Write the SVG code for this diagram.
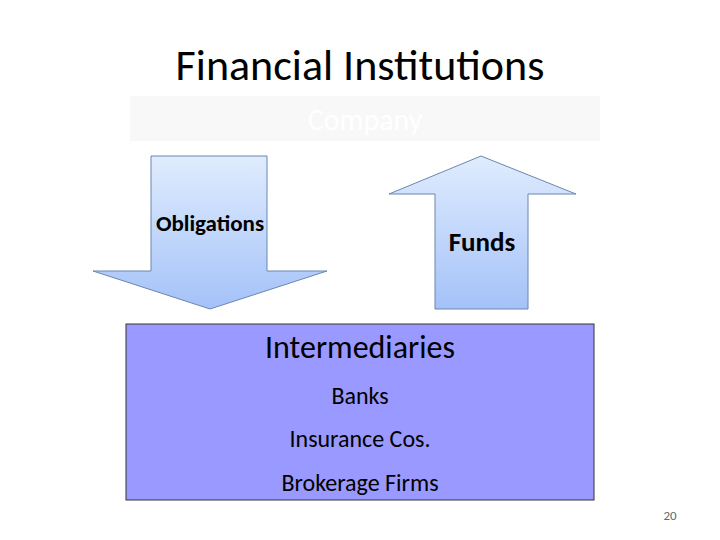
<svg xmlns="http://www.w3.org/2000/svg" width="720" height="540" viewBox="0 0 720 540">
<style>
.c{font-family:Calibri,Carlito,"Open Sans",sans-serif}
.arr{fill:url(#g);stroke:#6b86b0;stroke-width:1}
</style>
<defs><linearGradient id="g" x1="0" y1="0" x2="0" y2="1"><stop offset="0" stop-color="#e0ecfe"/><stop offset="1" stop-color="#a4c2f8"/></linearGradient></defs>
<rect width="720" height="540" fill="#fff"/>
<text class="c" x="360" y="80" font-size="44" text-anchor="middle">Financial Institutions</text>
<g id="company"><rect x="130" y="96" width="470" height="45" fill="#f8f8f8"/><text class="c" x="365" y="130" font-size="30" fill="#fff" text-anchor="middle">Company</text></g>
<g id="obligations"><polygon class="arr" points="151,156 267,156 267,271 327,271 210,309 93,271 151,271"/><text class="c" x="210" y="231" font-size="23" font-weight="bold" text-anchor="middle">Obligations</text></g>
<g id="funds"><polygon class="arr" points="481,156 576,194 528,194 528,309 435,309 435,194 389,194"/><text class="c" x="482" y="251" font-size="27" font-weight="bold" text-anchor="middle">Funds</text></g>
<g id="intermediaries"><rect x="126" y="324" width="468" height="176" fill="#9999ff" stroke="#333" stroke-width="1"/>
<text class="c" x="360" y="358" font-size="32" text-anchor="middle">Intermediaries</text>
<text class="c" x="360" y="404" font-size="24" text-anchor="middle">Banks</text>
<text class="c" x="360" y="447" font-size="24" text-anchor="middle">Insurance Cos.</text>
<text class="c" x="360" y="491" font-size="24" text-anchor="middle">Brokerage Firms</text></g>
<text class="c" x="670" y="520" font-size="13" fill="#666" text-anchor="middle">20</text>
<g id="connectors"/>
</svg>
